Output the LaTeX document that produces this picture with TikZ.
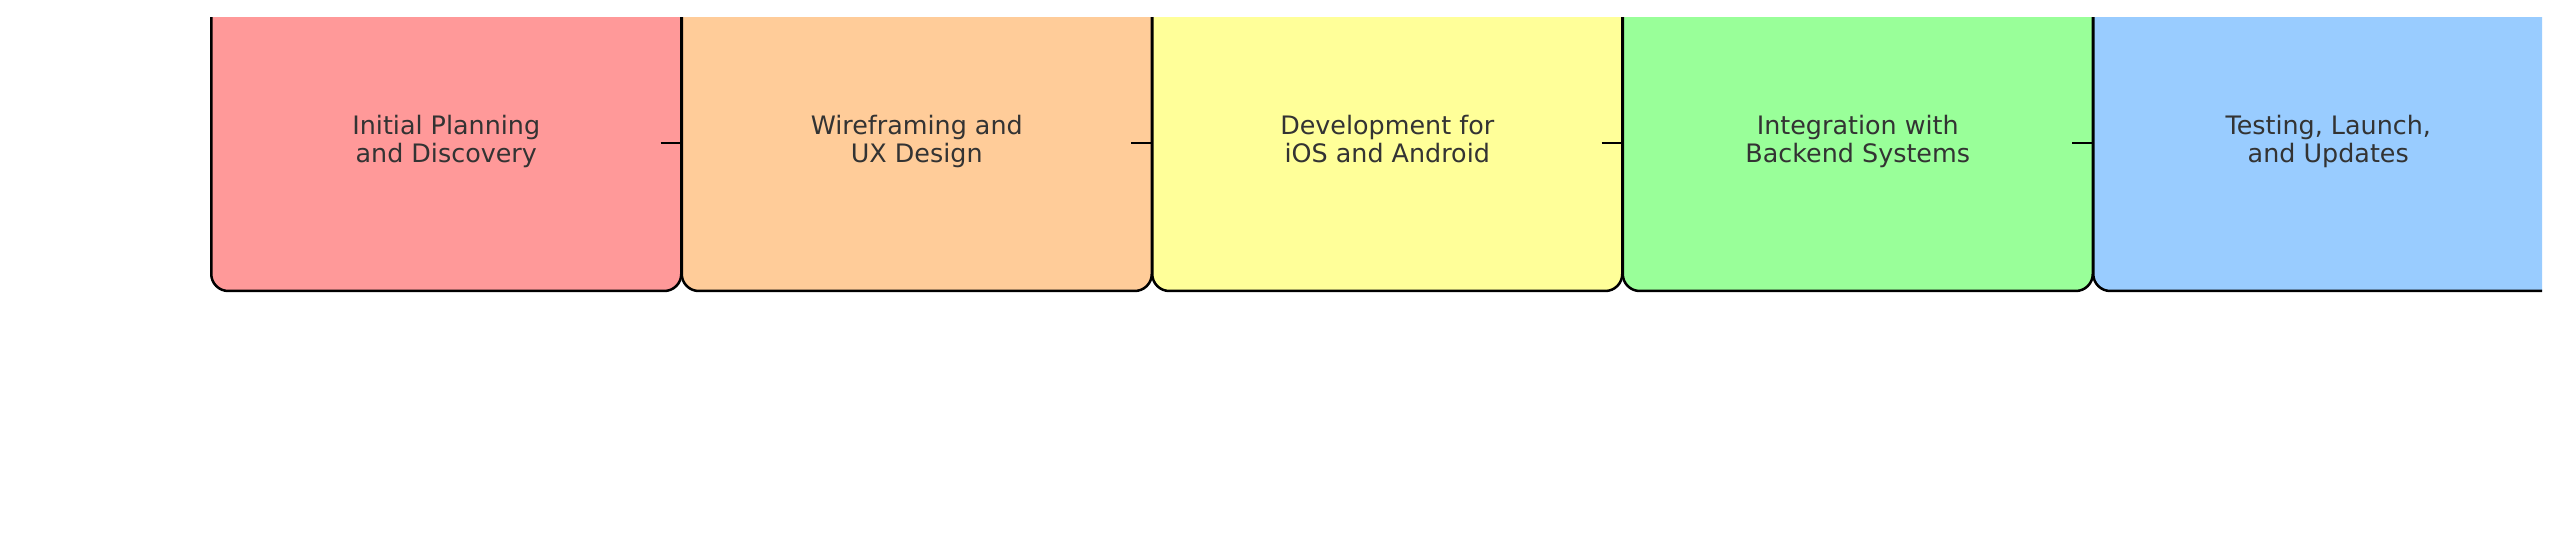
\documentclass[tikz,border=0pt]{standalone}
\usepackage{fontspec}
\setmainfont{DejaVu Sans}
\definecolor{c1}{HTML}{FF9999}
\definecolor{c2}{HTML}{FFCC99}
\definecolor{c3}{HTML}{FFFF99}
\definecolor{c4}{HTML}{99FF99}
\definecolor{c5}{HTML}{99CCFF}
\definecolor{textgray}{HTML}{333333}
\newcommand{\lstrut}{\rule[-4pt]{0pt}{14pt}}
\begin{document}
\begin{tikzpicture}[x=0.5pt,y=-0.5pt,
  stagebox/.style={draw=black, line width=1.25pt, rounded corners=8.5pt,
    minimum width=235pt, minimum height=148pt, inner sep=0pt, align=center,
    text=textgray, font=\fontsize{12.7}{14}\selectfont},
  linkline/.style={draw=black, line width=1.45pt}]
\fill[white] (0,0) rectangle (2560,534);
\useasboundingbox (0,0) rectangle (2560,534);
\begin{scope}
\clip (0,18) rectangle (2542,534);
\node[stagebox, fill=c1] (s1) at (446.25,143) {\lstrut Initial Planning\\\lstrut and Discovery};
\node[stagebox, fill=c2] (s2) at (916.75,143) {\lstrut Wireframing and\\\lstrut UX Design};
\node[stagebox, fill=c3] (s3) at (1387.25,143) {\lstrut Development for\\\lstrut iOS and Android};
\node[stagebox, fill=c4] (s4) at (1857.75,143) {\lstrut Integration with\\\lstrut Backend Systems};
\node[stagebox, fill=c5] (s5) at (2328.25,143) {\lstrut Testing, Launch,\\\lstrut and Updates};
\draw[linkline] ([xshift=-11pt]s1.east) -- (s2.west);
\draw[linkline] ([xshift=-11pt]s2.east) -- (s3.west);
\draw[linkline] ([xshift=-11pt]s3.east) -- (s4.west);
\draw[linkline] ([xshift=-11pt]s4.east) -- (s5.west);
\end{scope}
\end{tikzpicture}
\end{document}
